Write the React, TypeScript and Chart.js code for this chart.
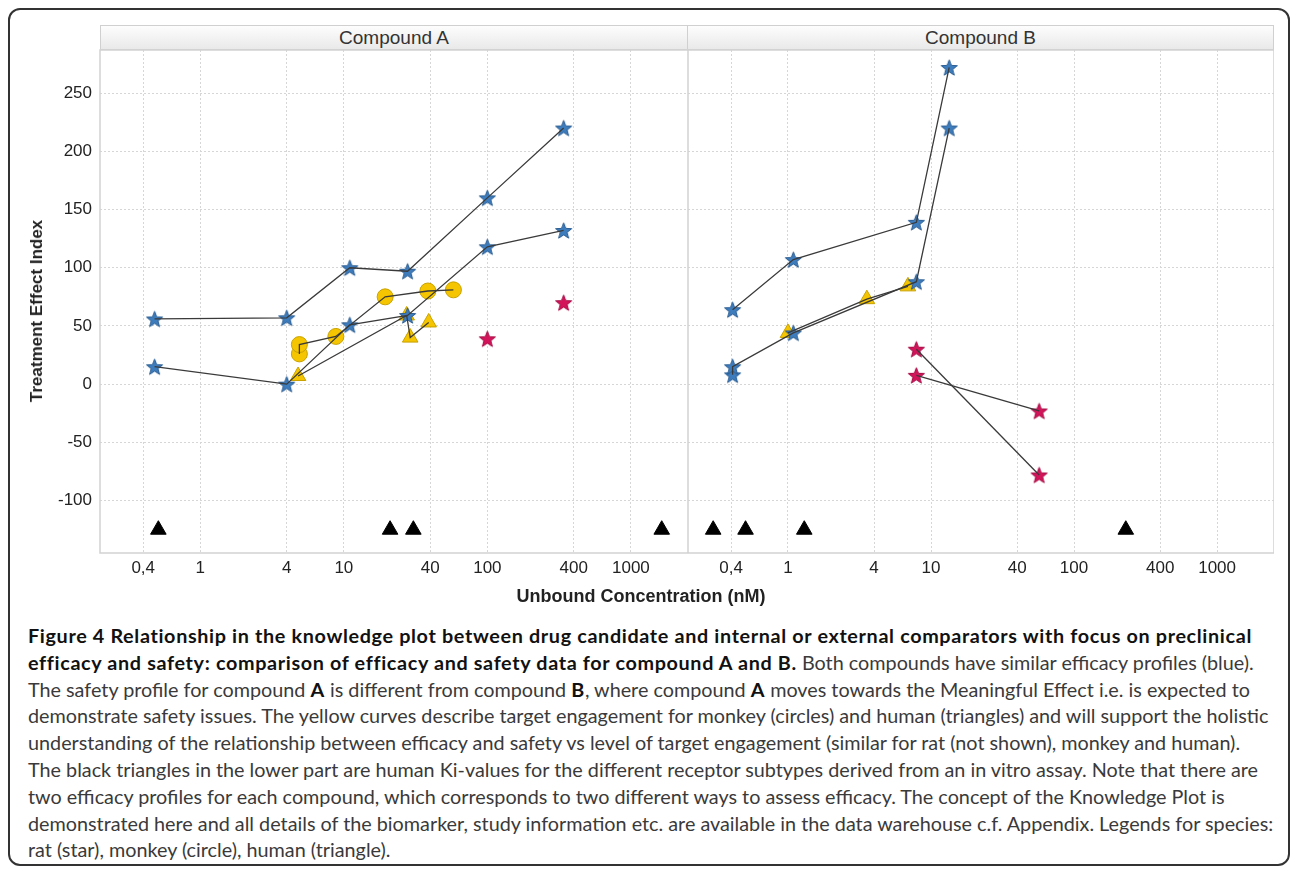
import React, { useEffect, useRef } from "react";
import { Chart, registerables } from "chart.js";

Chart.register(...registerables);

// ---------- axis / text data ----------
const xTickValues = [0.4, 1, 4, 10, 40, 100, 400, 1000];
const xTickLabels = ["0,4", "1", "4", "10", "40", "100", "400", "1000"];
const xMin = 0.2;
const xMax = 2500;
const yMin = -145;
const yMax = 287;
const yStep = 50;

const panelTitles = ["Compound A", "Compound B"];
const yAxisTitle = "Treatment Effect Index";
const xAxisTitle = "Unbound Concentration (nM)";

// ---------- Compound A ----------
const aEfficacy1X = [0.48, 4, 11, 27.8, 100, 340];
const aEfficacy1Y = [56, 57, 100, 97, 160, 220];
const aEfficacy2X = [0.48, 4, 11, 27.8, 100, 340];
const aEfficacy2Y = [15, 0, 51, 59, 118, 132];
const aMonkeyX = [4.9, 4.9, 8.8, 19.4, 38.5, 58];
const aMonkeyY = [26, 34, 41, 75, 80, 81];
const aHumanX = [4.8, 27.4, 29, 39];
const aHumanY = [7, 59, 40, 53];
const aSafetyX = [100, 340];
const aSafetyY = [39, 70];
const aKiX = [0.51, 21, 30.5, 1640];
const aKiY = [-125, -125, -125, -125];

// ---------- Compound B ----------
const bEfficacy1X = [0.41, 1.09, 7.9, 13.4];
const bEfficacy1Y = [64, 107, 139, 272];
const bEfficacy2X = [0.41, 0.41, 1.09, 7.9, 13.4];
const bEfficacy2Y = [8, 15, 44, 88, 220];
const bHumanX = [1.0, 3.56, 6.9];
const bHumanY = [44, 73, 84];
const bSafety1X = [7.9, 57];
const bSafety1Y = [30, -78];
const bSafety2X = [7.9, 57];
const bSafety2Y = [7.6, -23];
const bKiX = [0.3, 0.505, 1.3, 230];
const bKiY = [-125, -125, -125, -125];

type Kind = "blueStar" | "redStar" | "circle" | "triangle" | "ki";
interface Series { xs: number[]; ys: number[]; kind: Kind; line: boolean }

const seriesA: Series[] = [
  { xs: aEfficacy1X, ys: aEfficacy1Y, kind: "blueStar", line: true },
  { xs: aEfficacy2X, ys: aEfficacy2Y, kind: "blueStar", line: true },
  { xs: aMonkeyX, ys: aMonkeyY, kind: "circle", line: true },
  { xs: aHumanX, ys: aHumanY, kind: "triangle", line: true },
  { xs: aSafetyX, ys: aSafetyY, kind: "redStar", line: false },
  { xs: aKiX, ys: aKiY, kind: "ki", line: false },
];

const seriesB: Series[] = [
  { xs: bEfficacy1X, ys: bEfficacy1Y, kind: "blueStar", line: true },
  { xs: bEfficacy2X, ys: bEfficacy2Y, kind: "blueStar", line: true },
  { xs: bHumanX, ys: bHumanY, kind: "triangle", line: true },
  { xs: bSafety1X, ys: bSafety1Y, kind: "redStar", line: true },
  { xs: bSafety2X, ys: bSafety2Y, kind: "redStar", line: true },
  { xs: bKiX, ys: bKiY, kind: "ki", line: false },
];

const captionLines: [string, boolean][][] = [
  [["Figure 4 Relationship in the knowledge plot between drug candidate and internal or external comparators with focus on preclinical", true]],
  [
    ["efficacy and safety: comparison of efficacy and safety data for compound A and B.", true],
    [" Both compounds have similar efficacy profiles (blue).", false],
  ],
  [
    ["The safety profile for compound ", false],
    ["A", true],
    [" is different from compound ", false],
    ["B", true],
    [", where compound ", false],
    ["A", true],
    [" moves towards the Meaningful Effect i.e. is expected to", false],
  ],
  [["demonstrate safety issues. The yellow curves describe target engagement for monkey (circles) and human (triangles) and will support the holistic", false]],
  [["understanding of the relationship between efficacy and safety vs level of target engagement (similar for rat (not shown), monkey and human).", false]],
  [["The black triangles in the lower part are human Ki-values for the different receptor subtypes derived from an in vitro assay. Note that there are", false]],
  [["two efficacy profiles for each compound, which corresponds to two different ways to assess efficacy. The concept of the Knowledge Plot is", false]],
  [["demonstrated here and all details of the biomarker, study information etc. are available in the data warehouse c.f. Appendix. Legends for species:", false]],
  [["rat (star), monkey (circle), human (triangle).", false]],
];

// ---------- styling ----------
const FONT = "'Liberation Sans', Arial, sans-serif";
const BLUE = "#3d7cbd";
const BLUE_EDGE = "#2c5e93";
const RED = "#d3135a";
const RED_EDGE = "#a70d45";
const YELLOW = "#f4c500";
const YELLOW_EDGE = "#c9a200";
const LINE = "#3a3a3a";

function makeStar(fill: string, stroke: string, R: number, r: number): HTMLCanvasElement {
  const size = Math.ceil(2 * R + 4);
  const c = document.createElement("canvas");
  c.width = size;
  c.height = size;
  const ctx = c.getContext("2d")!;
  const cx = size / 2;
  const cy = size / 2 + 0.8;
  ctx.beginPath();
  for (let i = 0; i < 10; i++) {
    const rad = (Math.PI / 5) * i - Math.PI / 2;
    const rr = i % 2 === 0 ? R : r;
    const px = cx + Math.cos(rad) * rr;
    const py = cy + Math.sin(rad) * rr;
    if (i === 0) ctx.moveTo(px, py);
    else ctx.lineTo(px, py);
  }
  ctx.closePath();
  ctx.fillStyle = fill;
  ctx.fill();
  ctx.lineWidth = 1;
  ctx.strokeStyle = stroke;
  ctx.stroke();
  return c;
}

const framePlugin = {
  id: "panelFrame",
  beforeDatasetsDraw(chart: any) {
    const { ctx, chartArea } = chart;
    ctx.save();
    ctx.strokeStyle = "#d2d2d2";
    ctx.lineWidth = 1.5;
    ctx.strokeRect(chartArea.left, chartArea.top, chartArea.right - chartArea.left, chartArea.bottom - chartArea.top);
    ctx.restore();
  },
};

function buildDatasets(series: Series[], stars: { blue: HTMLCanvasElement; red: HTMLCanvasElement }) {
  const ds: any[] = [];
  series.forEach((s) => {
    const data = s.xs.map((x, i) => ({ x, y: s.ys[i] }));
    let marker: any = {};
    if (s.kind === "blueStar") marker = { pointStyle: stars.blue, pointRadius: 8 };
    else if (s.kind === "redStar") marker = { pointStyle: stars.red, pointRadius: 8 };
    else if (s.kind === "circle")
      marker = { pointStyle: "circle", pointRadius: 8, backgroundColor: YELLOW, borderColor: YELLOW_EDGE, borderWidth: 1 };
    else if (s.kind === "triangle")
      marker = { pointStyle: "triangle", pointRadius: 9, backgroundColor: YELLOW, borderColor: YELLOW_EDGE, borderWidth: 1 };
    else marker = { pointStyle: "triangle", pointRadius: 9, backgroundColor: "#000", borderColor: "#000", borderWidth: 1 };
    ds.push({ data, showLine: false, order: 1, clip: false, ...marker });
    if (s.line) {
      ds.push({
        data,
        showLine: true,
        order: 0,
        clip: false,
        pointRadius: 0,
        borderColor: LINE,
        borderWidth: 1.3,
        backgroundColor: LINE,
      });
    }
  });
  return ds;
}

function zeroPad(scale: any) {
  scale.paddingTop = 0;
  scale.paddingBottom = 0;
  scale.paddingLeft = 0;
  scale.paddingRight = 0;
}

function makeConfig(series: Series[], showY: boolean, stars: any): any {
  return {
    type: "scatter",
    data: { datasets: buildDatasets(series, stars) },
    plugins: [framePlugin],
    options: {
      animation: false,
      responsive: false,
      devicePixelRatio: 1,
      layout: { autoPadding: false, padding: { top: 10, left: 0, right: 0, bottom: 0 } },
      plugins: { legend: { display: false }, tooltip: { enabled: false } },
      scales: {
        x: {
          type: "logarithmic",
          min: xMin,
          max: xMax,
          afterBuildTicks: (scale: any) => {
            scale.ticks = xTickValues.map((v) => ({ value: v }));
          },
          afterFit: (scale: any) => {
            scale.height = 47;
            zeroPad(scale);
          },
          ticks: {
            autoSkip: false,
            maxRotation: 0,
            padding: 5,
            color: "#222",
            font: { family: FONT, size: 17 },
            callback: (_v: any, i: number) => xTickLabels[i],
          },
          grid: { color: "#d6d6d6", lineWidth: 1, drawTicks: false },
          border: { display: false, dash: [2, 2] },
        },
        y: {
          type: "linear",
          min: yMin,
          max: yMax,
          afterFit: (scale: any) => {
            scale.width = showY ? 90 : 0;
            zeroPad(scale);
          },
          ticks: {
            display: showY,
            stepSize: yStep,
            includeBounds: false,
            padding: 8,
            color: "#222",
            font: { family: FONT, size: 17 },
          },
          grid: { color: "#d6d6d6", lineWidth: 1, drawTicks: false },
          border: { display: false, dash: [2, 2] },
        },
      },
    },
  };
}

function Panel({ series, showY, style }: { series: Series[]; showY: boolean; style: React.CSSProperties }) {
  const ref = useRef<HTMLCanvasElement | null>(null);
  useEffect(() => {
    if (!ref.current) return;
    const stars = {
      blue: makeStar(BLUE, BLUE_EDGE, 8.5, 3.6),
      red: makeStar(RED, RED_EDGE, 8.5, 3.6),
    };
    const chart = new Chart(ref.current, makeConfig(series, showY, stars));
    return () => chart.destroy();
  }, []);
  const w = style.width as number;
  const h = style.height as number;
  return <canvas ref={ref} width={w} height={h} style={{ position: "absolute", ...style }} />;
}

const headerStyle: React.CSSProperties = {
  position: "absolute",
  top: 25,
  height: 25,
  boxSizing: "border-box",
  background: "linear-gradient(#fdfdfd, #e9e9e9)",
  border: "1px solid #d0d0d0",
  textAlign: "center",
  font: `19px ${FONT}`,
  lineHeight: "23px",
  color: "#333",
};

export default function App() {
  return (
    <div style={{ position: "relative", width: 1293, height: 869, overflow: "hidden", background: "#fff" }}>
      <style>{`html,body{margin:0;padding:0;overflow:hidden;background:#fff}`}</style>
      <div
        style={{
          position: "absolute",
          left: 8,
          top: 8,
          width: 1282,
          height: 858,
          boxSizing: "border-box",
          border: "2px solid #333",
          borderRadius: 12,
        }}
      />
      <div style={{ ...headerStyle, left: 100, width: 588 }}>{panelTitles[0]}</div>
      <div style={{ ...headerStyle, left: 688, width: 586, borderLeft: "none" }}>{panelTitles[1]}</div>
      <Panel series={seriesA} showY={true} style={{ left: 10, top: 40, width: 678, height: 560 }} />
      <Panel series={seriesB} showY={false} style={{ left: 688, top: 40, width: 586, height: 560 }} />
      <div
        style={{
          position: "absolute",
          left: 37,
          top: 311,
          transform: "translate(-50%, -50%) rotate(-90deg)",
          whiteSpace: "nowrap",
          font: `bold 17px ${FONT}`,
          color: "#222",
        }}
      >
        {yAxisTitle}
      </div>
      <div
        style={{
          position: "absolute",
          left: 0,
          width: 1282,
          top: 586,
          textAlign: "center",
          font: `bold 18px ${FONT}`,
          color: "#222",
        }}
      >
        {xAxisTitle}
      </div>
      <div
        style={{
          position: "absolute",
          left: 28,
          top: 622,
          fontFamily: "Lato, 'Open Sans', sans-serif",
          fontSize: 19.8,
          lineHeight: "26.8px",
          color: "#3a3a3a",
          whiteSpace: "nowrap",
        }}
      >
        {captionLines.map((line, i) => (
          <div key={i}>
            {line.map(([t, b], j) =>
              b ? (
                <b key={j} style={{ color: "#111", fontWeight: 700, letterSpacing: "0.65px" }}>
                  {t}
                </b>
              ) : (
                <span key={j}>{t}</span>
              )
            )}
          </div>
        ))}
      </div>
    </div>
  );
}
